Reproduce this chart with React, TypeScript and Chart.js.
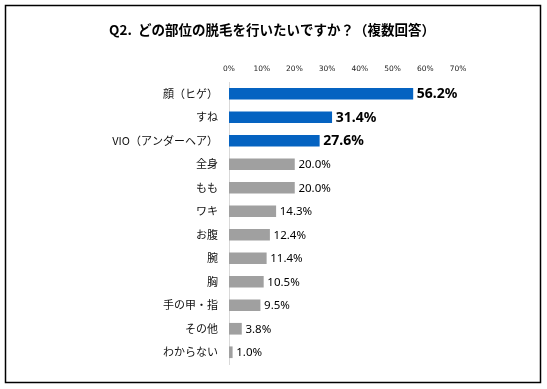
import React, { useEffect, useRef } from "react";
import { Chart, registerables } from "chart.js";

Chart.register(...registerables);

const TITLE = "Q2.  どの部位の脱毛を行いたいですか？（複数回答）";
const categories = [
  "顔（ヒゲ）",
  "すね",
  "VIO（アンダーヘア）",
  "全身",
  "もも",
  "ワキ",
  "お腹",
  "腕",
  "胸",
  "手の甲・指",
  "その他",
  "わからない",
];
const values = [56.2, 31.4, 27.6, 20.0, 20.0, 14.3, 12.4, 11.4, 10.5, 9.5, 3.8, 1.0];
const highlightCount = 3;
const xTicks = [0, 10, 20, 30, 40, 50, 60, 70];

const BLUE = "#0563C1";
const GRAY = "#A0A0A0";

export default function App() {
  const ref = useRef<HTMLCanvasElement | null>(null);

  useEffect(() => {
    if (!ref.current) return;
    const colors = values.map((_, i) => (i < highlightCount ? BLUE : GRAY));

    const framePlugin = {
      id: "frameAndTitle",
      beforeDraw(chart: any) {
        const ctx = chart.ctx;
        ctx.save();
        ctx.fillStyle = "#fff";
        ctx.fillRect(0, 0, chart.width, chart.height);
        ctx.restore();
      },
      afterDraw(chart: any) {
        const ctx = chart.ctx;
        ctx.save();
        ctx.strokeStyle = "#000";
        ctx.lineWidth = 1.5;
        ctx.strokeRect(5.5, 5.5, 535, 377);
        ctx.fillStyle = "#000";
        ctx.font = "bold 13.5px 'Noto Sans CJK JP'";
        ctx.textAlign = "center";
        ctx.textBaseline = "middle";
        ctx.fillText(TITLE, 272, 30);
        ctx.restore();
      },
    };

    const labelPlugin = {
      id: "valueLabels",
      afterDatasetsDraw(chart: any) {
        const ctx = chart.ctx;
        const meta = chart.getDatasetMeta(0);
        ctx.save();
        ctx.fillStyle = "#000";
        ctx.textAlign = "left";
        ctx.textBaseline = "middle";
        meta.data.forEach((bar: any, i: number) => {
          ctx.font =
            i < highlightCount
              ? "bold 14px 'Noto Sans', 'Noto Sans CJK JP'"
              : "11.5px 'Noto Sans', 'Noto Sans CJK JP'";
          ctx.fillText(values[i].toFixed(1) + "%", bar.x + 4, bar.y + 0.5);
        });
        ctx.restore();
      },
    };

    const chart = new Chart(ref.current, {
      type: "bar",
      data: {
        labels: categories,
        datasets: [
          {
            data: values,
            backgroundColor: colors,
            borderWidth: 0,
            barThickness: 11,
          },
        ],
      },
      options: {
        indexAxis: "y",
        responsive: false,
        animation: false,
        devicePixelRatio: 1,
        layout: { padding: { left: 0, right: 89, top: 60, bottom: 25 } },
        plugins: {
          legend: { display: false },
          tooltip: { enabled: false },
          title: { display: false },
        },
        scales: {
          x: {
            position: "top",
            min: 0,
            max: 70,
            afterBuildTicks(scale: any) {
              scale.ticks = xTicks.map((v) => ({ value: v }));
            },
            afterFit(scale: any) {
              scale.height = 22;
            },
            grid: { display: false, drawTicks: false },
            border: { display: false },
            ticks: {
              padding: 8,
              color: "#222",
              font: { family: "'DejaVu Sans'", size: 7.5 },
              callback: (v: any) => v + "%",
            },
          },
          y: {
            afterFit(scale: any) {
              scale.width = 229;
            },
            grid: { display: false, drawTicks: false },
            border: { display: true, color: "#D9D9D9", width: 1 },
            ticks: {
              padding: 11,
              color: "#111",
              font: { family: "'Noto Sans CJK JP'", size: 11 },
            },
          },
        },
      },
      plugins: [framePlugin, labelPlugin],
    } as any);

    return () => chart.destroy();
  }, []);

  return (
    <div style={{ position: "absolute", left: 0, top: 0, width: 547, height: 389, background: "#fff" }}>
      <canvas ref={ref} width={547} height={389} style={{ display: "block", width: 547, height: 389 }} />
    </div>
  );
}
